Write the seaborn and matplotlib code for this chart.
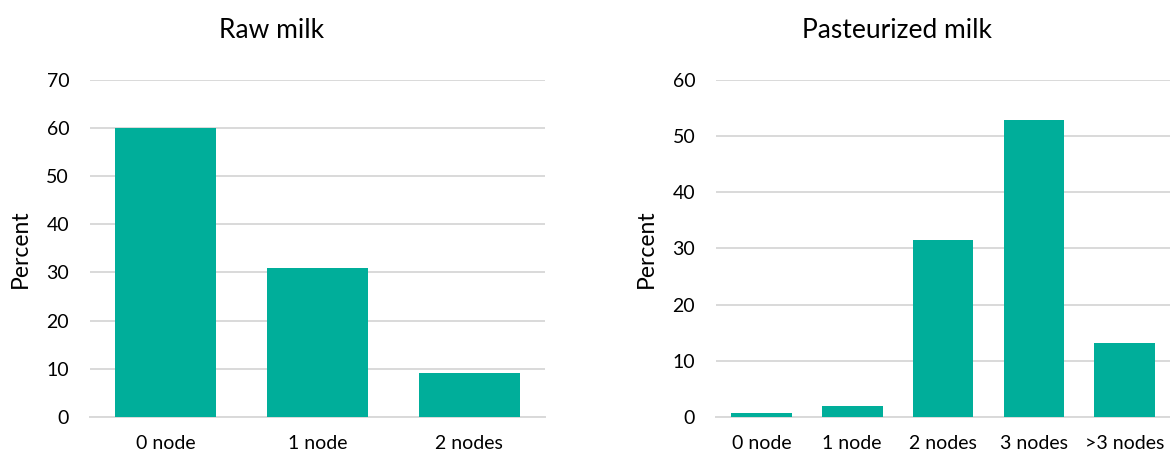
import matplotlib
matplotlib.use("Agg")
import matplotlib.pyplot as plt
import seaborn as sns
import pandas as pd

raw_categories = ["0 node", "1 node", "2 nodes"]
raw_values = [60.0, 30.9, 9.1]

past_categories = ["0 node", "1 node", "2 nodes", "3 nodes", ">3 nodes"]
past_values = [0.6, 2.0, 31.5, 52.8, 13.1]

raw_ticks = [0, 10, 20, 30, 40, 50, 60, 70]
past_ticks = [0, 10, 20, 30, 40, 50, 60]

BAR = "#00AE9A"
GRID = "#D9D9D9"
TEXT = "#000000"

sns.set_theme(style="white")
plt.rcParams["font.family"] = ["Lato", "DejaVu Sans"]

fig = plt.figure(figsize=(11.7, 4.57), dpi=100)
ax1 = fig.add_axes([0.0769, 0.088, 0.389, 0.737])
ax2 = fig.add_axes([0.612, 0.088, 0.388, 0.737])


def draw(ax, cats, vals, ticks, title, title_x):
    df = pd.DataFrame({"cat": cats, "val": vals})
    sns.barplot(data=df, x="cat", y="val", color=BAR, width=0.667,
                saturation=1, ax=ax, zorder=3, edgecolor="none")
    ax.set_ylim(0, ticks[-1])
    ax.set_yticks(ticks)
    ax.set_xlim(-0.5, len(cats) - 0.5)
    ax.yaxis.grid(True, color=GRID, linewidth=1.4, zorder=0)
    ax.set_axisbelow(True)
    for s in ["top", "right", "left"]:
        ax.spines[s].set_visible(False)
    ax.spines["bottom"].set_color(GRID)
    ax.spines["bottom"].set_linewidth(1.4)
    ax.tick_params(axis="y", length=0, pad=15, labelsize=14, labelcolor=TEXT)
    ax.tick_params(axis="x", length=0, pad=13, labelsize=14, labelcolor=TEXT)
    ax.set_xlabel("")
    ax.set_ylabel("Percent", fontsize=16.5, color=TEXT)
    ax.yaxis.set_label_coords(-0.13, 0.5)
    fig.text(title_x, 1 - 30 / 457, title, ha="center", va="center",
             fontsize=19, color=TEXT)


draw(ax1, raw_categories, raw_values, raw_ticks, "Raw milk", 272 / 1170)
draw(ax2, past_categories, past_values, past_ticks, "Pasteurized milk", 897 / 1170)

fig.savefig("out.png", dpi=100, facecolor="white")
